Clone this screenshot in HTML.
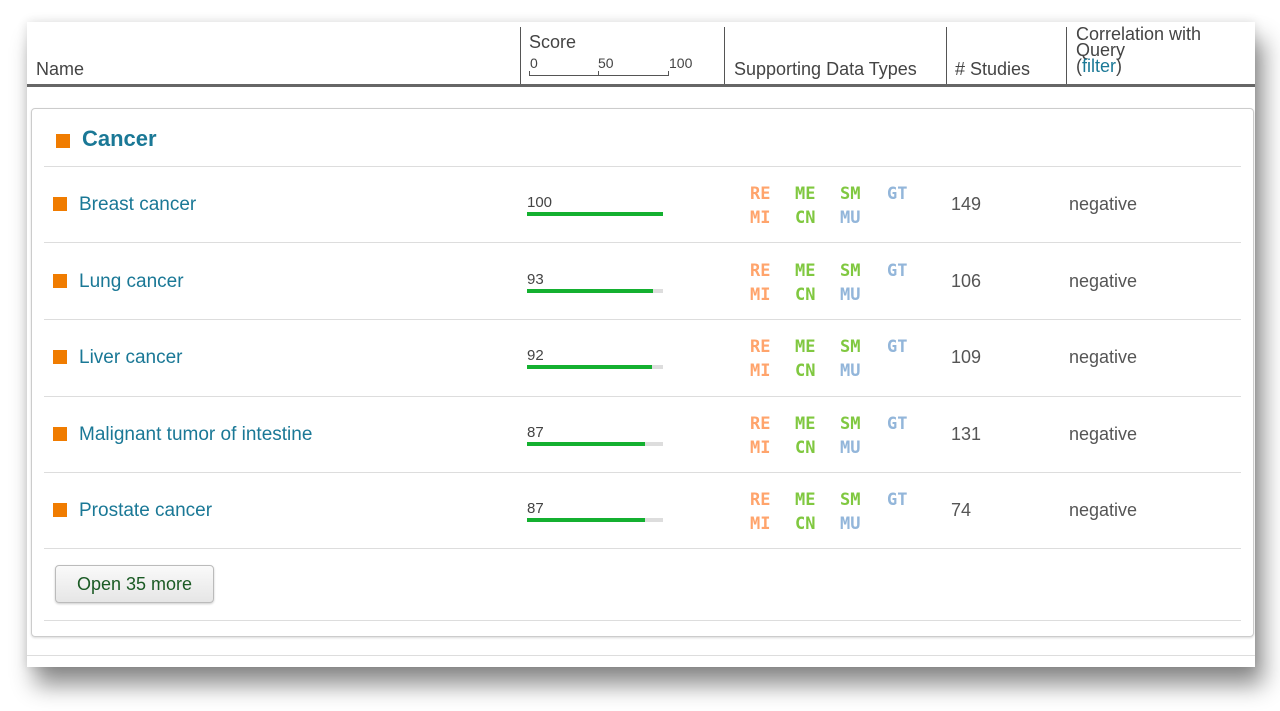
<!DOCTYPE html>
<html><head><style>
body{margin:0;width:1280px;height:711px;background:#fff;position:relative;overflow:hidden;font-family:"Liberation Sans",sans-serif;}
.panel{position:absolute;left:27px;top:22px;width:1228px;height:645px;background:#fff;box-shadow:8px 18px 22px rgba(0,0,0,0.45),0 0 10px rgba(0,0,0,0.12);}
.a{position:absolute;white-space:nowrap;}
.hd{color:#444;font-size:18px;}
.vd{position:absolute;top:5px;height:59px;width:1px;background:#555;}
.box{position:absolute;left:4px;top:86px;width:1221px;height:527px;border:1px solid #ccc;border-radius:4px;box-shadow:0 1px 2px rgba(0,0,0,0.15);}
.sep{position:absolute;left:17px;width:1197px;height:1px;background:#ddd;}
.sq{position:absolute;width:14px;height:14px;background:#f07c00;}
.nm{position:absolute;font-size:19px;color:#1a7896;}
.sc{position:absolute;font-size:15px;color:#444;}
.bar{position:absolute;width:136px;height:4px;background:#ddd;}
.bar i{display:block;height:4px;background:#14b030;}
.dt{position:absolute;font-family:"DejaVu Sans Mono","Liberation Mono",monospace;font-weight:bold;font-size:17px;}
.o{color:#ffa46c}.g{color:#80c840}.b{color:#93b6da}
.num{position:absolute;font-size:18px;color:#555;}
</style></head><body>
<div class="panel">
 <div class="a hd" style="left:9px;top:37px">Name</div>
 <div class="vd" style="left:493px"></div>
 <div class="a hd" style="left:502px;top:10px">Score</div>
 <div class="a" style="left:503px;top:33px;font-size:14px;color:#444">0</div>
 <div class="a" style="left:571px;top:33px;font-size:14px;color:#444">50</div>
 <div class="a" style="left:642px;top:33px;font-size:14px;color:#444">100</div>
 <div class="a" style="left:502px;top:53px;width:140px;height:1px;background:#555"></div>
 <div class="a" style="left:502px;top:49px;width:1px;height:5px;background:#555"></div>
 <div class="a" style="left:571px;top:49px;width:1px;height:5px;background:#555"></div>
 <div class="a" style="left:641px;top:49px;width:1px;height:5px;background:#555"></div>
 <div class="vd" style="left:697px"></div>
 <div class="a hd" style="left:707px;top:37px">Supporting Data Types</div>
 <div class="vd" style="left:919px"></div>
 <div class="a hd" style="left:928px;top:37px"># Studies</div>
 <div class="vd" style="left:1039px"></div>
 <div class="a hd" style="left:1049px;top:4px;line-height:16px">Correlation with<br>Query<br>(<span style="color:#1a7896">filter</span>)</div>
 <div class="a" style="left:0;top:62px;width:1228px;height:3px;background:#666"></div>
 <div class="box">
  <div class="sq" style="left:24px;top:25px"></div>
  <div class="a" style="left:50px;top:17px;font-size:22px;font-weight:bold;color:#1a7896">Cancer</div>
 </div>
 <div class="sep" style="top:144px"></div>
 <div class="sep" style="top:220px"></div>
 <div class="sep" style="top:297px"></div>
 <div class="sep" style="top:374px"></div>
 <div class="sep" style="top:450px"></div>
 <div class="sep" style="top:526px"></div>
 <div class="sep" style="top:598px"></div>
 <div class="a" style="left:0;top:633px;width:1228px;height:1px;background:#ddd"></div>
 <div class="a" style="left:28px;top:543px;width:157px;height:36px;border:1px solid #bbb;border-radius:4px;background:linear-gradient(#fafafa,#e6e6e6);box-shadow:0 1px 2px rgba(0,0,0,0.2);color:#1a5a24;font-size:18px;line-height:36px;text-align:center">Open 35 more</div>
</div>
<div id="rows"></div>
<script>
var d=[["Breast cancer",100,149],["Lung cancer",93,106],["Liver cancer",92,109],["Malignant tumor of intestine",87,131],["Prostate cancer",87,74]];
var h="";
d.forEach(function(r,i){var y=204+i*76.5;
h+='<div class="sq" style="left:53px;top:'+(y-7)+'px"></div>';
h+='<div class="nm" style="left:79px;top:'+(y-10)+'px">'+r[0]+'</div>';
h+='<div class="sc" style="left:527px;top:'+(y-10)+'px">'+r[1]+'</div>';
h+='<div class="bar" style="left:527px;top:'+(y+8)+'px"><i style="width:'+(r[1]*1.36)+'px"></i></div>';
var t=y-20;
h+='<div class="dt o" style="left:750px;top:'+t+'px">RE</div><div class="dt g" style="left:795px;top:'+t+'px">ME</div><div class="dt g" style="left:840px;top:'+t+'px">SM</div><div class="dt b" style="left:887px;top:'+t+'px">GT</div>';
t=y+4;
h+='<div class="dt o" style="left:750px;top:'+t+'px">MI</div><div class="dt g" style="left:795px;top:'+t+'px">CN</div><div class="dt b" style="left:840px;top:'+t+'px">MU</div>';
h+='<div class="num" style="left:951px;top:'+(y-10)+'px">'+r[2]+'</div>';
h+='<div class="num" style="left:1069px;top:'+(y-10)+'px">negative</div>';
});
document.getElementById("rows").innerHTML=h;
</script>
</body></html>
